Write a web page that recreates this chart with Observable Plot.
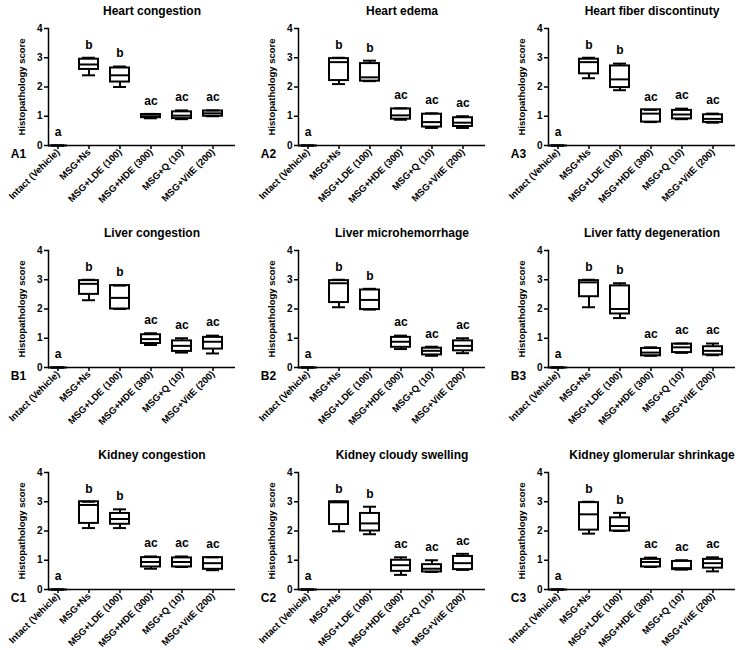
<!DOCTYPE html>
<html>
<head>
<meta charset="utf-8">
<script src="https://cdn.jsdelivr.net/npm/d3@7"></script>
<script src="https://cdn.jsdelivr.net/npm/@observablehq/plot@0.6"></script>
<style>
  html, body { margin: 0; padding: 0; background: #fff; }
  #grid { position: relative; width: 748px; height: 650px; background: #fff; }
  .cell { position: absolute; width: 250px; }
</style>
</head>
<body>
<div id="grid"></div>
<script>
const groups = ["Intact (Vehicle)", "MSG+Ns", "MSG+LDE (100)", "MSG+HDE (300)", "MSG+Q (10)", "MSG+VitE (200)"];
const letters = ["a", "b", "b", "ac", "ac", "ac"];
const titles = ["Heart congestion", "Heart edema", "Heart fiber discontinuty",
                "Liver congestion", "Liver microhemorrhage", "Liver fatty degeneration",
                "Kidney congestion", "Kidney cloudy swelling", "Kidney glomerular shrinkage"];
const panelLabels = ["A1", "A2", "A3", "B1", "B2", "B3", "C1", "C2", "C3"];
const yLabel = "Histopathology score";
const yTicks = [0, 1, 2, 3, 4];

// each row: [min, q1, median, q3, max] per group
const heartCongestion = [[0,0,0,0,0],[2.4,2.6,2.77,2.95,3.0],[2.0,2.17,2.4,2.65,2.7],[0.93,0.95,1.0,1.06,1.08],[0.9,0.92,1.02,1.15,1.2],[1.0,1.0,1.1,1.18,1.2]];
const heartEdema = [[0,0,0,0,0],[2.1,2.22,2.85,2.97,3.0],[2.2,2.2,2.33,2.8,2.9],[0.88,0.9,1.03,1.25,1.27],[0.6,0.63,0.8,1.07,1.1],[0.6,0.65,0.78,0.95,1.0]];
const heartFiber = [[0,0,0,0,0],[2.3,2.45,2.85,2.95,3.0],[1.89,1.98,2.26,2.72,2.8],[0.8,0.8,1.09,1.22,1.22],[0.9,0.91,1.06,1.2,1.26],[0.78,0.79,0.91,1.05,1.09]];
const liverCongestion = [[0,0,0,0,0],[2.3,2.5,2.86,2.97,3.0],[2.0,2.0,2.38,2.8,2.8],[0.77,0.82,0.97,1.12,1.17],[0.51,0.55,0.74,0.91,1.0],[0.48,0.63,0.88,1.03,1.09]];
const liverMicro = [[0,0,0,0,0],[2.06,2.22,2.88,2.97,3.0],[1.98,1.98,2.31,2.65,2.69],[0.63,0.69,0.88,1.03,1.09],[0.4,0.43,0.57,0.66,0.71],[0.49,0.57,0.74,0.91,1.0]];
const liverFatty = [[0,0,0,0,0],[2.06,2.42,2.91,2.97,3.0],[1.69,1.83,2.0,2.79,2.88],[0.4,0.4,0.51,0.65,0.69],[0.5,0.51,0.69,0.8,0.82],[0.42,0.43,0.57,0.71,0.82]];
const kidneyCongestion = [[0,0,0,0,0],[2.1,2.26,2.89,3.0,3.0],[2.1,2.23,2.41,2.6,2.74],[0.71,0.77,0.94,1.09,1.13],[0.77,0.77,0.94,1.08,1.13],[0.66,0.69,0.9,1.09,1.1]];
const kidneyCloudy = [[0,0,0,0,0],[1.99,2.22,2.98,3.0,3.0],[1.89,2.0,2.26,2.6,2.83],[0.5,0.62,0.83,1.0,1.1],[0.6,0.6,0.71,0.85,1.0],[0.67,0.68,0.9,1.13,1.22]];
const kidneyGlomerular = [[0,0,0,0,0],[1.91,2.03,2.57,2.97,3.0],[2.0,2.0,2.17,2.45,2.62],[0.77,0.77,0.94,1.03,1.09],[0.68,0.68,0.73,0.96,1.0],[0.62,0.73,0.9,1.03,1.1]];

const panelStats = [heartCongestion, heartEdema, heartFiber, liverCongestion, liverMicro, liverFatty, kidneyCongestion, kidneyCloudy, kidneyGlomerular];

function panel(stats, title, label, h) {
  const rows = groups.map((g, i) => ({
    group: g, min: stats[i][0], q1: stats[i][1], med: stats[i][2], q3: stats[i][3], max: stats[i][4], letter: letters[i]
  }));
  return Plot.plot({
    width: 250, height: h,
    marginLeft: 48, marginRight: 15, marginTop: 28, marginBottom: h - 145,
    style: {fontFamily: "'Liberation Sans', Arial, sans-serif", fontWeight: "bold", fontSize: "10px", color: "black", background: "white", overflow: "visible"},
    x: {type: "band", domain: groups, paddingInner: 0.375, paddingOuter: 0.11, align: 0, label: null},
    y: {domain: [0, 4], label: null},
    marks: [
      Plot.ruleX(rows, {x: "group", y1: "min", y2: "max", stroke: "black", strokeWidth: 2}),
      Plot.barY(rows, {x: "group", y1: "q1", y2: "q3", fill: "white", stroke: "black", strokeWidth: 2}),
      Plot.tickY(rows, {x: "group", y: "med", stroke: "black", strokeWidth: 2}),
      Plot.tickY(rows, {x: "group", y: "min", stroke: "black", strokeWidth: 2, insetLeft: 3, insetRight: 3}),
      Plot.tickY(rows, {x: "group", y: "max", stroke: "black", strokeWidth: 2, insetLeft: 3, insetRight: 3}),
      Plot.text(rows, {x: "group", y: "max", text: "letter", dy: -13, fontSize: 12, fill: "black"}),
      Plot.axisY({ticks: yTicks, tickFormat: d3.format("d"), tickSize: 4, tickPadding: 2, fontSize: 10, label: null, strokeWidth: 1.5}),
      Plot.axisX({tickSize: 4, tickPadding: 1, tickRotate: -45, fontSize: 9.5, label: null, strokeWidth: 1.5}),
      Plot.ruleY([0], {stroke: "black", strokeWidth: 1.5}),
      Plot.frame({anchor: "left", stroke: "black", strokeWidth: 1.5}),
      Plot.text([title], {text: d => d, frameAnchor: "top", textAnchor: "middle", lineAnchor: "middle", dx: 10, dy: -17, fontSize: 12, fill: "black"}),
      Plot.text([yLabel], {text: d => d, frameAnchor: "left", textAnchor: "middle", lineAnchor: "middle", rotate: -90, dx: -27, fontSize: 9.5, fill: "black"}),
      Plot.text([label], {text: d => d, frameAnchor: "bottom-left", textAnchor: "middle", lineAnchor: "middle", dx: -30, dy: 9, fontSize: 12, fill: "black"})
    ]
  });
}

const grid = document.getElementById("grid");
panelStats.forEach((stats, k) => {
  const row = Math.floor(k / 3), col = k % 3;
  const h = row === 2 ? 206 : 222;
  const cell = document.createElement("div");
  cell.className = "cell";
  cell.style.left = (col * 250) + "px";
  cell.style.top = (row * 222) + "px";
  cell.style.height = h + "px";
  cell.appendChild(panel(stats, titles[k], panelLabels[k], h));
  grid.appendChild(cell);
});
</script>
</body>
</html>
